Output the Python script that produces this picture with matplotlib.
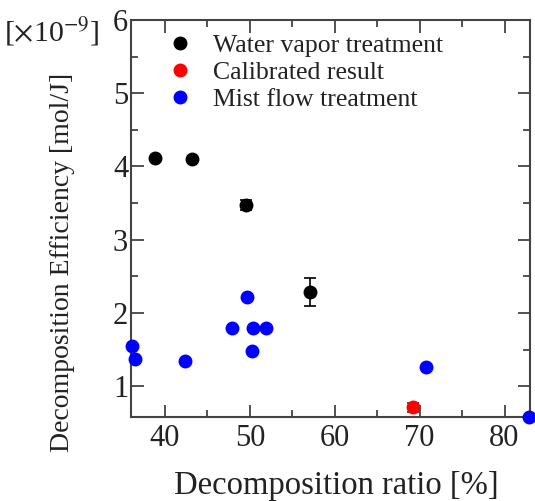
import matplotlib
matplotlib.use("Agg")
import matplotlib.pyplot as plt
from matplotlib.ticker import MultipleLocator
from matplotlib.lines import Line2D

plt.rcParams['font.family'] = ['Liberation Serif', 'DejaVu Serif']
plt.rcParams['mathtext.fontset'] = 'stix'

# Water vapor treatment
wv_x = [38.8, 43.2, 49.6, 57.1]
wv_y = [4.12, 4.10, 3.47, 2.29]
wv_err = [0.0, 0.0, 0.07, 0.19]

# Calibrated result
cal_x = [69.2]
cal_y = [0.71]
cal_err = [0.06]

# Mist flow treatment
mist_x = [36.1, 36.5, 42.35, 47.9, 49.65, 50.35, 50.2, 51.9, 70.8, 82.9]
mist_y = [1.55, 1.37, 1.34, 1.79, 2.22, 1.79, 1.48, 1.79, 1.26, 0.58]

W, H = 535, 501
fig = plt.figure(figsize=(W/100, H/100), dpi=100)
ax = fig.add_axes([131/W, 1 - 417/H, (530-131)/W, (417-20)/H])

ms = 9
ax.errorbar(wv_x, wv_y, yerr=wv_err, fmt='o', color='black', ms=ms,
            capsize=4.5, elinewidth=1.2, capthick=1.2, clip_on=False, zorder=3)
ax.errorbar(cal_x, cal_y, yerr=cal_err, fmt='o', color='red', ecolor='#333333', ms=ms,
            capsize=4.5, elinewidth=1.2, capthick=1.2, clip_on=False, zorder=3)
ax.plot(mist_x, mist_y, 'o', color='blue', ms=ms, clip_on=False, zorder=3)

ax.set_xlim(36, 83)
ax.set_ylim(0.58, 6)
ax.xaxis.set_major_locator(MultipleLocator(10))
ax.xaxis.set_minor_locator(MultipleLocator(5))
ax.yaxis.set_major_locator(MultipleLocator(1))
ax.yaxis.set_minor_locator(MultipleLocator(0.5))

spine_color = '#444444'
for s in ax.spines.values():
    s.set_color(spine_color)
    s.set_linewidth(1.5)
ax.tick_params(which='both', direction='in', top=True, right=True,
               color=spine_color, width=1.3, labelsize=22)
ax.tick_params(axis='x', pad=5)
ax.tick_params(axis='y', pad=2)
ax.tick_params(which='major', length=9)
ax.tick_params(which='minor', length=5)
ax.set_yticks([1, 2, 3, 4, 5, 6])
for lbl in ax.get_yticklabels() + ax.get_xticklabels():
    lbl.set_color('#222222')

fig.text(336/W, 1 - 486/H, 'Decomposition ratio [%]', fontsize=23.5, color='#222222',
         ha='center', va='center')
fig.text(63/W, 1 - 262/H, 'Decomposition Efficiency [mol/J]', fontsize=20, color='#222222',
         ha='center', va='center', rotation=90)
fig.text(4/W, 1 - 32/H, r'[$\times$10$^{-9}$]', fontsize=21.5, color='#222222',
         ha='left', va='center')

handles = [
    Line2D([], [], marker='o', ls='none', color='black', ms=ms),
    Line2D([], [], marker='o', ls='none', color='red', ms=ms),
    Line2D([], [], marker='o', ls='none', color='blue', ms=ms),
]
labels = ['Water vapor treatment', 'Calibrated result', 'Mist flow treatment']
leg = ax.legend(handles, labels, loc='upper left', bbox_to_anchor=(0.097, 0.965),
                frameon=False, fontsize=18.5, handletextpad=0.88, labelspacing=0.15,
                borderaxespad=0, borderpad=0, handlelength=0.8)
for t in leg.get_texts():
    t.set_color('#222222')

fig.savefig('out.png', dpi=100)
